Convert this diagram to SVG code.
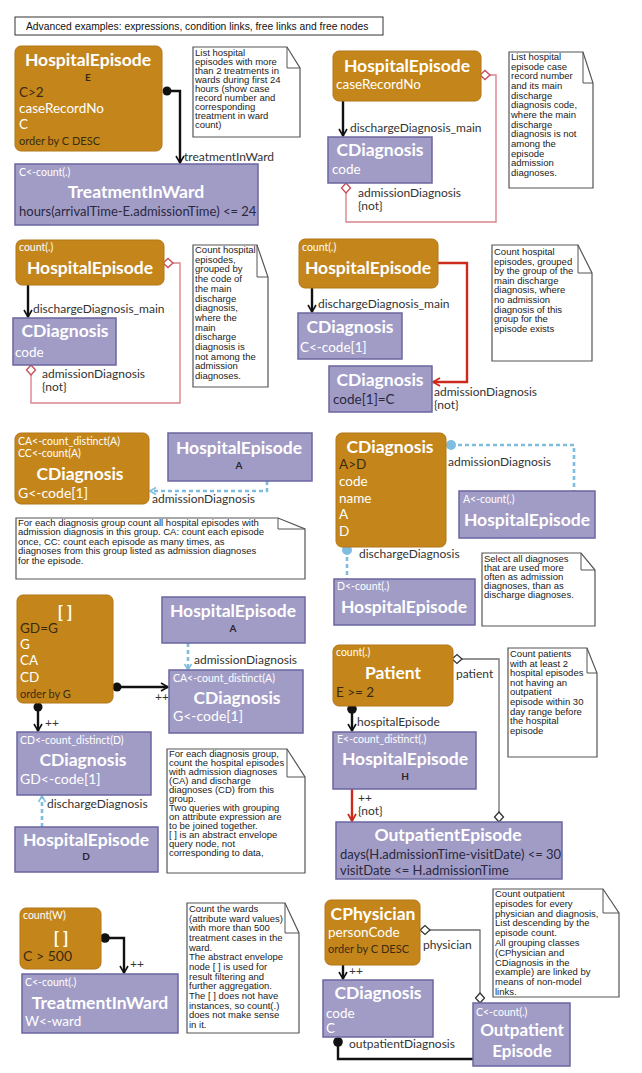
<svg xmlns="http://www.w3.org/2000/svg" width="642" height="1073" viewBox="0 0 642 1073">
<style>
.bg{fill:#fff}
.on{fill:#C4861A;stroke:#B27617;stroke-width:1}
.pn{fill:#A19CC6;stroke:#6B66A0;stroke-width:1.5}
.note{fill:#fff;stroke:#555;stroke-width:1.2}
.fold{fill:none;stroke:#555;stroke-width:1}
text{font-family:Lato,"Open Sans","DejaVu Sans",sans-serif}
.t{font-weight:bold;font-size:17.5px;fill:#fff;text-anchor:middle}
.w{font-size:13.5px;fill:#fff}
.d{font-size:13.5px;fill:#3a2a12}
.dp{font-size:13px;fill:#2b2840}
.s{font-size:10.5px;fill:#fff}
.o{font-size:11px;fill:#3a2a12}
.al{font-size:10px;font-weight:bold;fill:#2b2430;text-anchor:middle}
.lbl{font-size:12px;fill:#333}
.nt{font-family:"Liberation Sans",Arial,sans-serif;font-size:9.5px;fill:#222}
.hd{font-family:"Liberation Sans",Arial,sans-serif;font-size:10.3px;fill:#111}
.lb{fill:none;stroke:#111;stroke-width:2.4}
.lr{fill:none;stroke:#CC2A1A;stroke-width:2.4}
.lbl2{fill:none;stroke:#7FBDE0;stroke-width:2.6;stroke-dasharray:4 3}
.lp{fill:none;stroke:#D9848A;stroke-width:1.4}
.lg{fill:none;stroke:#6f6f6f;stroke-width:1.3}
.dmp{fill:#fff;stroke:#C9505A;stroke-width:1.4}
.dmg{fill:#fff;stroke:#333;stroke-width:1.3}
.dot{fill:#111}
.dotb{fill:#7FBDE0}
</style>
<defs>
<marker id="ab" markerUnits="userSpaceOnUse" markerWidth="12" markerHeight="12" refX="9" refY="6" orient="auto"><path d="M2,2 L9,6 L2,10" fill="none" stroke="#111" stroke-width="1.6"/></marker>
<marker id="ar" markerUnits="userSpaceOnUse" markerWidth="12" markerHeight="12" refX="9" refY="6" orient="auto"><path d="M2,2 L9,6 L2,10" fill="none" stroke="#CC2A1A" stroke-width="1.8"/></marker>
<marker id="au" markerUnits="userSpaceOnUse" markerWidth="12" markerHeight="12" refX="9" refY="6" orient="auto"><path d="M3,2.5 L9,6 L3,9.5" fill="none" stroke="#7FBDE0" stroke-width="1.5"/></marker>
</defs>
<rect class="bg" x="0" y="0" width="642" height="1073"/>

<g id="title">
<rect x="15" y="17" width="368" height="18" fill="#fff" stroke="#333" stroke-width="1"/>
<text class="hd" x="26" y="29.5">Advanced examples: expressions, condition links, free links and free nodes</text>
</g>

<g id="connectors">
<!-- block 1 -->
<circle class="dot" cx="167" cy="91" r="4.5"/>
<path class="lb" d="M167,91 H180 V163" marker-end="url(#ab)"/>
<text class="lbl" x="184" y="161">treatmentInWard</text>
<!-- block 2 -->
<path class="lb" d="M343,101 V136" marker-end="url(#ab)"/>
<text class="lbl" x="350" y="132">dischargeDiagnosis_main</text>
<path class="lp" d="M346,193 V222 H496 V75 H490"/>
<path class="dmp" d="M346,183 L350.5,188 L346,193 L341.5,188 Z"/>
<path class="dmp" d="M480,75 L485,70.5 L490,75 L485,79.5 Z"/>
<text class="lbl" x="358" y="197">admissionDiagnosis</text>
<text class="lbl" x="358" y="210">{not}</text>
<!-- block 3 -->
<path class="lb" d="M28,285 V317" marker-end="url(#ab)"/>
<text class="lbl" x="33" y="313">dischargeDiagnosis_main</text>
<path class="lp" d="M31,375 V403 H180 V263 H173"/>
<path class="dmp" d="M31,365 L35.5,370 L31,375 L26.5,370 Z"/>
<path class="dmp" d="M163,263 L168,258.5 L173,263 L168,267.5 Z"/>
<text class="lbl" x="42" y="378">admissionDiagnosis</text>
<text class="lbl" x="42" y="391">{not}</text>
<!-- block 4 -->
<path class="lb" d="M312,288 V312" marker-end="url(#ab)"/>
<text class="lbl" x="318" y="308">dischargeDiagnosis_main</text>
<path class="lr" d="M438,263 H467 V382 H433" marker-end="url(#ar)"/>
<text class="lbl" x="434" y="396">admissionDiagnosis</text>
<text class="lbl" x="434" y="409">{not}</text>
<!-- block 5 -->
<path class="lbl2" d="M267,481 V491 H150" marker-end="url(#au)"/>
<text class="lbl" x="152" y="503">admissionDiagnosis</text>
<!-- block 6 -->
<path class="lbl2" d="M451,445 H574 V491"/>
<circle class="dotb" cx="451" cy="445" r="5"/>
<text class="lbl" x="448" y="466">admissionDiagnosis</text>
<path class="lbl2" d="M347,550 V579"/>
<circle class="dotb" cx="347" cy="550" r="5"/>
<text class="lbl" x="359" y="558">dischargeDiagnosis</text>
<!-- block 7 -->
<path class="lbl2" d="M188,643 V670" marker-end="url(#au)"/>
<text class="lbl" x="194" y="664">admissionDiagnosis</text>
<circle class="dot" cx="117" cy="687" r="4.5"/>
<path class="lb" d="M117,687 H168" marker-end="url(#ab)"/>
<text class="lbl" x="155" y="701">++</text>
<circle class="dot" cx="38" cy="707" r="4.5"/>
<path class="lb" d="M38,707 V731" marker-end="url(#ab)"/>
<text class="lbl" x="45" y="727">++</text>
<path class="lbl2" d="M42,827 V796" marker-end="url(#au)"/>
<text class="lbl" x="47" y="808">dischargeDiagnosis</text>
<!-- block 8 -->
<path class="lg" d="M462,659 H499 V812"/>
<path class="dmg" d="M452,659 L457,654.5 L462,659 L457,663.5 Z"/>
<path class="dmg" d="M499,812 L503.5,817 L499,822 L494.5,817 Z"/>
<text class="lbl" x="456" y="678">patient</text>
<circle class="dot" cx="352" cy="709" r="4.8"/>
<path class="lb" d="M352,709 V731" marker-end="url(#ab)"/>
<text class="lbl" x="357" y="726">hospitalEpisode</text>
<path class="lr" d="M352,789 V821" marker-end="url(#ar)"/>
<text class="lbl" x="358" y="802">++</text>
<text class="lbl" x="358" y="815">{not}</text>
<!-- block 9 -->
<circle class="dot" cx="105" cy="938" r="4.8"/>
<path class="lb" d="M105,938 H124 V973" marker-end="url(#ab)"/>
<text class="lbl" x="130" y="968">++</text>
<!-- block 10 -->
<path class="lg" d="M430,930 H480 V993"/>
<path class="dmg" d="M420,930 L425,925.5 L430,930 L425,934.5 Z"/>
<path class="dmg" d="M480,993 L484.5,998 L480,1003 L475.5,998 Z"/>
<text class="lbl" x="423" y="949">physician</text>
<path class="lb" d="M343,965 V979" marker-end="url(#ab)"/>
<text class="lbl" x="349" y="975">++</text>
<circle class="dot" cx="338" cy="1042" r="4.8"/>
<path class="lb" d="M338,1042 V1059 H473"/>
<text class="lbl" x="349" y="1048">outpatientDiagnosis</text>
</g>

<!-- block 1 nodes -->
<g id="n1-hospitalEpisode">
<rect class="on" x="15" y="46" width="147" height="105" rx="6"/>
<text class="t" x="88" y="66">HospitalEpisode</text>
<text class="al" x="88" y="81" style="fill:#3a2a12">E</text>
<text class="d" x="19" y="97">C&gt;2</text>
<text class="w" x="19" y="113">caseRecordNo</text>
<text class="w" x="19" y="129">C</text>
<text class="o" x="19" y="145">order by C DESC</text>
</g>
<g id="n1-treatmentInWard">
<rect class="pn" x="15" y="164" width="243" height="61"/>
<text class="s" x="19" y="176">C&lt;-count(.)</text>
<text class="t" x="136" y="198">TreatmentInWard</text>
<text class="dp" x="19" y="216">hours(arrivalTime-E.admissionTime) &lt;= 24</text>
</g>
<g id="note1">
<path class="note" d="M193,47 H287 L300,68 V137 H193 Z"/>
<path class="fold" d="M287,47 V68 H300"/>
<text class="nt"><tspan x="195" y="56">List hospital</tspan><tspan x="195" y="65">episodes with more</tspan><tspan x="195" y="74">than 2 treatments in</tspan><tspan x="195" y="83">wards during first 24</tspan><tspan x="195" y="92">hours (show case</tspan><tspan x="195" y="101">record number and</tspan><tspan x="195" y="110">corresponding</tspan><tspan x="195" y="119">treatment in ward</tspan><tspan x="195" y="128">count)</tspan></text>
</g>

<!-- block 2 -->
<g id="n2-hospitalEpisode">
<rect class="on" x="333" y="51" width="148" height="50" rx="6"/>
<text class="t" x="407" y="72">HospitalEpisode</text>
<text class="w" x="336" y="89">caseRecordNo</text>
</g>
<g id="n2-cdiagnosis">
<rect class="pn" x="328" y="137" width="104" height="46"/>
<text class="t" x="380" y="156">CDiagnosis</text>
<text class="w" x="332" y="174">code</text>
</g>
<g id="note2">
<path class="note" d="M509,52 H583 L593,83 V188 H509 Z"/>
<path class="fold" d="M583,52 V83 H593"/>
<text class="nt"><tspan x="511" y="60">List hospital</tspan><tspan x="511" y="69.7">episode case</tspan><tspan x="511" y="79.3">record number</tspan><tspan x="511" y="89">and its main</tspan><tspan x="511" y="98.7">discharge</tspan><tspan x="511" y="108.3">diagnosis code,</tspan><tspan x="511" y="118">where the main</tspan><tspan x="511" y="127.7">discharge</tspan><tspan x="511" y="137.3">diagnosis is not</tspan><tspan x="511" y="147">among the</tspan><tspan x="511" y="156.7">episode</tspan><tspan x="511" y="166.3">admission</tspan><tspan x="511" y="176">diagnoses.</tspan></text>
</g>

<!-- block 3 -->
<g id="n3-hospitalEpisode">
<rect class="on" x="16" y="240" width="148" height="45" rx="6"/>
<text class="s" x="19" y="251">count(.)</text>
<text class="t" x="90" y="274">HospitalEpisode</text>
</g>
<g id="n3-cdiagnosis">
<rect class="pn" x="13" y="318" width="103" height="47"/>
<text class="t" x="65" y="337">CDiagnosis</text>
<text class="w" x="15" y="357">code</text>
</g>
<g id="note3">
<path class="note" d="M193,245 H257 L268,277 V387 H193 Z"/>
<path class="fold" d="M257,245 V277 H268"/>
<text class="nt"><tspan x="195" y="253">Count hospital</tspan><tspan x="195" y="262.7">episodes,</tspan><tspan x="195" y="272.4">grouped by</tspan><tspan x="195" y="282.1">the code of</tspan><tspan x="195" y="291.8">the main</tspan><tspan x="195" y="301.5">discharge</tspan><tspan x="195" y="311.2">diagnosis,</tspan><tspan x="195" y="320.9">where the</tspan><tspan x="195" y="330.6">main</tspan><tspan x="195" y="340.3">discharge</tspan><tspan x="195" y="350">diagnosis is</tspan><tspan x="195" y="359.7">not among the</tspan><tspan x="195" y="369.4">admission</tspan><tspan x="195" y="379.1">diagnoses.</tspan></text>
</g>

<!-- block 4 -->
<g id="n4-hospitalEpisode">
<rect class="on" x="299" y="239" width="139" height="49" rx="6"/>
<text class="s" x="302" y="251">count(.)</text>
<text class="t" x="368" y="274">HospitalEpisode</text>
</g>
<g id="n4-cdiagnosis1">
<rect class="pn" x="298" y="313" width="104" height="46"/>
<text class="t" x="350" y="333">CDiagnosis</text>
<text class="w" x="300" y="352">C&lt;-code[1]</text>
</g>
<g id="n4-cdiagnosis2">
<rect class="pn" x="329" y="366" width="103" height="46"/>
<text class="t" x="380" y="386">CDiagnosis</text>
<text class="dp" x="333" y="404" style="font-size:13.5px">code[1]=C</text>
</g>
<g id="note4">
<path class="note" d="M492,245 H578 L592,273 V361 H492 Z"/>
<path class="fold" d="M578,245 V273 H592"/>
<text class="nt"><tspan x="494" y="255">Count hospital</tspan><tspan x="494" y="264.6">episodes, grouped</tspan><tspan x="494" y="274.2">by the group of the</tspan><tspan x="494" y="283.8">main discharge</tspan><tspan x="494" y="293.4">diagnosis, where</tspan><tspan x="494" y="303">no admission</tspan><tspan x="494" y="312.6">diagnosis of this</tspan><tspan x="494" y="322.2">group for the</tspan><tspan x="494" y="331.8">episode exists</tspan></text>
</g>

<!-- block 5 -->
<g id="n5-cdiagnosis">
<rect class="on" x="15" y="433" width="134" height="71" rx="6"/>
<text class="s" x="18" y="445">CA&lt;-count_distinct(A)</text>
<text class="s" x="18" y="457">CC&lt;-count(A)</text>
<text class="t" x="80" y="480">CDiagnosis</text>
<text class="w" x="18" y="498" style="font-size:14px">G&lt;-code[1]</text>
</g>
<g id="n5-hospitalEpisode">
<rect class="pn" x="168" y="433" width="144" height="48"/>
<text class="t" x="239" y="454">HospitalEpisode</text>
<text class="al" x="239" y="469">A</text>
</g>
<g id="note5">
<path class="note" d="M16,518 H278 L305,529 V579 H16 Z"/>
<path class="fold" d="M278,518 V529 H305"/>
<text class="nt"><tspan x="18" y="526">For each diagnosis group count all hospital episodes with</tspan><tspan x="18" y="535.4">admission diagnosis in this group. CA: count each episode</tspan><tspan x="18" y="544.8">once, CC: count each episode as many times, as</tspan><tspan x="18" y="554.2">diagnoses from this group listed as admission diagnoses</tspan><tspan x="18" y="563.6">for the episode.</tspan></text>
</g>

<!-- block 6 -->
<g id="n6-cdiagnosis">
<rect class="on" x="336" y="433" width="110" height="114" rx="6"/>
<text class="t" x="390" y="453">CDiagnosis</text>
<text class="d" x="339" y="469">A&gt;D</text>
<text class="w" x="339" y="486">code</text>
<text class="w" x="339" y="503">name</text>
<text class="w" x="339" y="519">A</text>
<text class="w" x="339" y="536">D</text>
</g>
<g id="n6-hospitalEpisodeA">
<rect class="pn" x="459" y="491" width="136" height="47"/>
<text class="s" x="463" y="503">A&lt;-count(.)</text>
<text class="t" x="527" y="526">HospitalEpisode</text>
</g>
<g id="n6-hospitalEpisodeD">
<rect class="pn" x="334" y="579" width="141" height="46"/>
<text class="s" x="337" y="590">D&lt;-count(.)</text>
<text class="t" x="404" y="613">HospitalEpisode</text>
</g>
<g id="note6">
<path class="note" d="M482,553 H581 L595,570 V626 H482 Z"/>
<path class="fold" d="M581,553 V570 H595"/>
<text class="nt"><tspan x="484" y="562">Select all diagnoses</tspan><tspan x="484" y="571">that are used more</tspan><tspan x="484" y="580">often as admission</tspan><tspan x="484" y="589">diagnoses, than as</tspan><tspan x="484" y="598">discharge diagnoses.</tspan></text>
</g>

<!-- block 7 -->
<g id="n7-envelope">
<rect class="on" x="17" y="595" width="96" height="108" rx="6"/>
<text class="t" x="65" y="618">[ ]</text>
<text class="d" x="20" y="633">GD=G</text>
<text class="w" x="20" y="649">G</text>
<text class="w" x="20" y="665">CA</text>
<text class="w" x="20" y="682">CD</text>
<text class="o" x="20" y="698">order by G</text>
</g>
<g id="n7-hospitalEpisodeA">
<rect class="pn" x="162" y="597" width="143" height="46"/>
<text class="t" x="233" y="617">HospitalEpisode</text>
<text class="al" x="233" y="632">A</text>
</g>
<g id="n7-cdiagnosisA">
<rect class="pn" x="169" y="670" width="134" height="63"/>
<text class="s" x="173" y="682">CA&lt;-count_distinct(A)</text>
<text class="t" x="237" y="704">CDiagnosis</text>
<text class="w" x="173" y="721" style="font-size:14px">G&lt;-code[1]</text>
</g>
<g id="n7-cdiagnosisD">
<rect class="pn" x="17" y="732" width="134" height="63"/>
<text class="s" x="20" y="744">CD&lt;-count_distinct(D)</text>
<text class="t" x="83" y="766">CDiagnosis</text>
<text class="w" x="20" y="784" style="font-size:14px">GD&lt;-code[1]</text>
</g>
<g id="n7-hospitalEpisodeD">
<rect class="pn" x="15" y="827" width="143" height="45"/>
<text class="t" x="86" y="846">HospitalEpisode</text>
<text class="al" x="86" y="860">D</text>
</g>
<g id="note7">
<path class="note" d="M167,749 H287 L305,777 V873 H167 Z"/>
<path class="fold" d="M287,749 V777 H305"/>
<text class="nt"><tspan x="169" y="757">For each diagnosis group,</tspan><tspan x="169" y="766">count the hospital episodes</tspan><tspan x="169" y="775">with admission diagnoses</tspan><tspan x="169" y="784">(CA) and discharge</tspan><tspan x="169" y="793">diagnoses (CD)  from this</tspan><tspan x="169" y="802">group.</tspan><tspan x="169" y="811">Two queries with grouping</tspan><tspan x="169" y="820">on attribute expression are</tspan><tspan x="169" y="829">to be joined together.</tspan><tspan x="169" y="838">[ ] is an abstract envelope</tspan><tspan x="169" y="847">query node, not</tspan><tspan x="169" y="856">corresponding to data,</tspan></text>
</g>

<!-- block 8 -->
<g id="n8-patient">
<rect class="on" x="333" y="645" width="120" height="61" rx="6"/>
<text class="s" x="336" y="656">count(.)</text>
<text class="t" x="393" y="679">Patient</text>
<text class="d" x="336" y="697">E &gt;= 2</text>
</g>
<g id="n8-hospitalEpisode">
<rect class="pn" x="333" y="732" width="143" height="57"/>
<text class="s" x="337" y="743">E&lt;-count_distinct(.)</text>
<text class="t" x="405" y="765">HospitalEpisode</text>
<text class="al" x="405" y="780">H</text>
</g>
<g id="n8-outpatientEpisode">
<rect class="pn" x="336" y="822" width="226" height="57"/>
<text class="t" x="448" y="841">OutpatientEpisode</text>
<text class="dp" x="340" y="859">days(H.admissionTime-visitDate) &lt;= 30</text>
<text class="dp" x="340" y="875">visitDate &lt;= H.admissionTime</text>
</g>
<g id="note8">
<path class="note" d="M508,648 H587 L597,673 V757 H508 Z"/>
<path class="fold" d="M587,648 V673 H597"/>
<text class="nt"><tspan x="510" y="657">Count patients</tspan><tspan x="510" y="666.6">with at least 2</tspan><tspan x="510" y="676.2">hospital episodes</tspan><tspan x="510" y="685.8">not having an</tspan><tspan x="510" y="695.4">outpatient</tspan><tspan x="510" y="705">episode within 30</tspan><tspan x="510" y="714.6">day range before</tspan><tspan x="510" y="724.2">the hospital</tspan><tspan x="510" y="733.8">episode</tspan></text>
</g>

<!-- block 9 -->
<g id="n9-envelope">
<rect class="on" x="20" y="908" width="81" height="61" rx="6"/>
<text class="s" x="23" y="919">count(W)</text>
<text class="t" x="61" y="944">[ ]</text>
<text class="d" x="23" y="961" style="font-size:14px">C &gt; 500</text>
</g>
<g id="n9-treatmentInWard">
<rect class="pn" x="22" y="974" width="156" height="59"/>
<text class="s" x="25" y="986">C&lt;-count(.)</text>
<text class="t" x="100" y="1009">TreatmentInWard</text>
<text class="w" x="25" y="1026">W&lt;-ward</text>
</g>
<g id="note9">
<path class="note" d="M187,903 H285 L299,933 V1033 H187 Z"/>
<path class="fold" d="M285,903 V933 H299"/>
<text class="nt"><tspan x="189" y="912">Count the wards</tspan><tspan x="189" y="921.7">(attribute ward values)</tspan><tspan x="189" y="931.3">with more than 500</tspan><tspan x="189" y="941">treatment cases in the</tspan><tspan x="189" y="950.7">ward.</tspan><tspan x="189" y="960.3">The abstract envelope</tspan><tspan x="189" y="970">node [ ] is used for</tspan><tspan x="189" y="979.7">result filtering and</tspan><tspan x="189" y="989.3">further aggregation.</tspan><tspan x="189" y="999">The [ ] does not have</tspan><tspan x="189" y="1008.7">instances, so count(.)</tspan><tspan x="189" y="1018.3">does not make sense</tspan><tspan x="189" y="1028">in it.</tspan></text>
</g>

<!-- block 10 -->
<g id="n10-cphysician">
<rect class="on" x="325" y="900" width="95" height="65" rx="6"/>
<text class="t" x="373" y="920">CPhysician</text>
<text class="w" x="328" y="937">personCode</text>
<text class="o" x="328" y="953">order by C DESC</text>
</g>
<g id="n10-cdiagnosis">
<rect class="pn" x="323" y="980" width="110" height="57"/>
<text class="t" x="378" y="999">CDiagnosis</text>
<text class="w" x="326" y="1018">code</text>
<text class="w" x="326" y="1033">C</text>
</g>
<g id="n10-outpatientEpisode">
<rect class="pn" x="473" y="1003" width="97" height="63"/>
<text class="s" x="476" y="1016">C&lt;-count(.)</text>
<text class="t" x="522" y="1036" style="font-size:17px">Outpatient</text>
<text class="t" x="522" y="1057" style="font-size:17px">Episode</text>
</g>
<g id="note10">
<path class="note" d="M493,889 H603 L619,913 V997 H493 Z"/>
<path class="fold" d="M603,889 V913 H619"/>
<text class="nt"><tspan x="495" y="897">Count outpatient</tspan><tspan x="495" y="906.8">episodes for every</tspan><tspan x="495" y="916.6">physician and diagnosis,</tspan><tspan x="495" y="926.4">List descending by the</tspan><tspan x="495" y="936.2">episode count.</tspan><tspan x="495" y="946">All  grouping classes</tspan><tspan x="495" y="955.8">(CPhysician and</tspan><tspan x="495" y="965.6">CDiagnosis in the</tspan><tspan x="495" y="975.4">example) are linked by</tspan><tspan x="495" y="985.2">means of non-model</tspan><tspan x="495" y="995">links.</tspan></text>
</g>
</svg>
